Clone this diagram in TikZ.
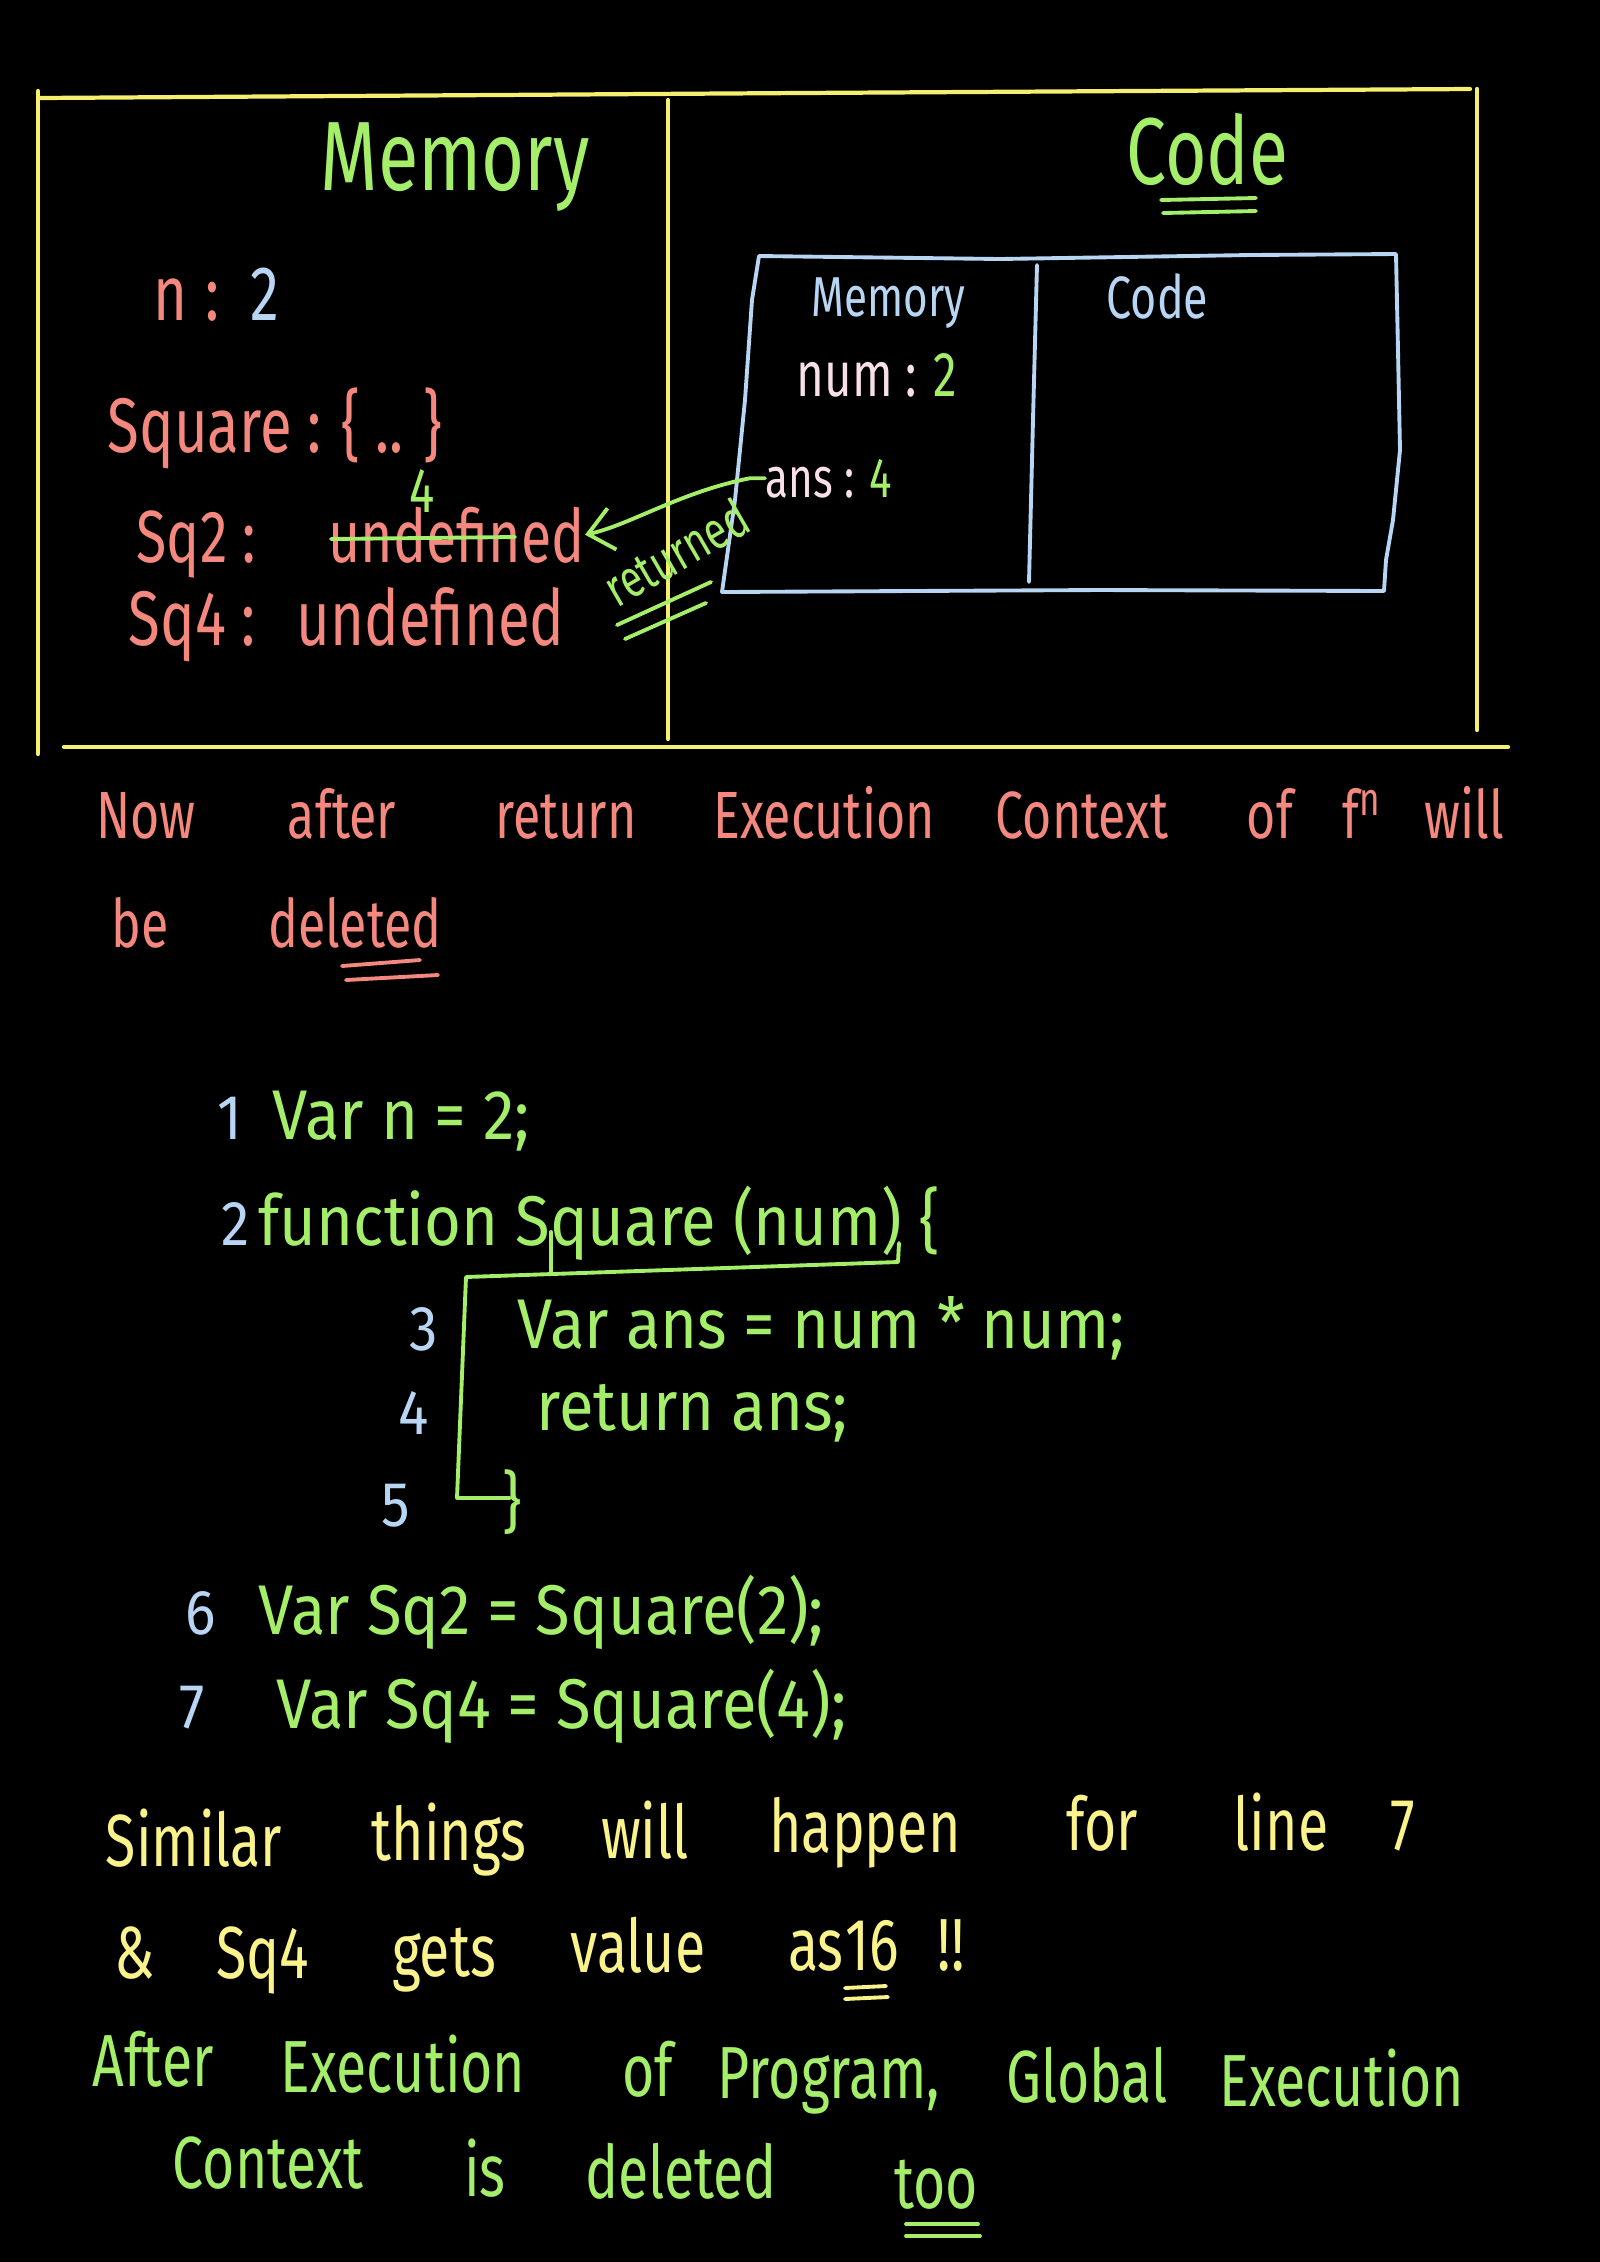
\documentclass[tikz,border=0pt]{standalone}
\usepackage{fontspec}
\setmainfont{Fira Sans}
\newfontfamily\hand[FakeStretch=0.75]{Fira Sans}
\newfontfamily\handw[FakeStretch=0.9]{Fira Sans}
\usetikzlibrary{arrows.meta}
\definecolor{ylw}{HTML}{F5EE6E}
\definecolor{ytxt}{HTML}{FAF28A}
\definecolor{grn}{HTML}{A4EE6A}
\definecolor{slm}{HTML}{F4887E}
\definecolor{blu}{HTML}{B8D6F4}
\definecolor{pnk}{HTML}{F8E0E8}
\begin{document}
\begin{tikzpicture}[x=0.01cm,y=-0.01cm,
  t/.style={inner sep=0pt, anchor=base},
  tw/.style={inner sep=0pt, anchor=base west},
  fs/.style={font=\hand\fontsize{#1}{#1}\selectfont},
  fw/.style={font=\handw\fontsize{#1}{#1}\selectfont},
  frame/.style={draw=ylw, line width=1.2pt, line cap=round},
  boxline/.style={draw=blu, line width=1.1pt, line cap=round, line join=round},
  gline/.style={draw=grn, line width=1.1pt, line cap=round, line join=round},
  sline/.style={draw=slm, line width=1.1pt, line cap=round}]
\fill[black] (0,0) rectangle (1600,2262);
\useasboundingbox (0,0) rectangle (1600,2262);

% yellow frame
\draw[frame] (38,91) -- (38,754);
\draw[frame] (38,98) -- (800,93) -- (1470,89);
\draw[frame] (1477,89) -- (1477,730);
\draw[frame] (668,100) -- (668,739);
\draw[frame] (64,747) -- (1508,747);

% titles
\node[tw, fs=28, text=grn] (memt) at (320,190) {Memory};
\node[tw, fs=27, text=grn] (codet) at (1126,184) {Code};
\draw[gline] (1161,200) -- (1256,198);
\draw[gline] (1163,213) -- (1256,211);

% global memory
\node[tw, fs=22] (n2) at (153,320) {\color{slm}n\hspace{5pt}:\hspace{9pt}\color{blu}2};
\node[tw, fs=22, text=slm] (sqf) at (107,452) {Square : \{ .. \}};
\node[tw, fs=21, text=slm] (sq2l) at (136,562) {Sq2 :};
\node[tw, fs=21, text=slm] (sq2u) at (328,562) {undefined};
\draw[gline] (331,539) -- (515,537);
\node[t, fs=18, text=grn] (four) at (422,512) {4};
\node[tw, fs=22, text=slm] (sq4l) at (128,645) {Sq4 :};
\node[tw, fs=22, text=slm] (sq4u) at (296,645) {undefined};

% function execution context box
\draw[boxline] (759,256) -- (1000,259) -- (1250,255) -- (1396,254) -- (1398,350)
  -- (1400,450) -- (1393,520) -- (1386,560) -- (1384,591) -- (1100,590) -- (722,592)
  -- (735,500) -- (745,400) -- (752,300) -- cycle;
\draw[boxline] (1037,265) -- (1033,420) -- (1029,582);
\node[tw, fs=16, text=blu] (memb) at (811,316) {Memory};
\node[tw, fs=17, text=blu] (codeb) at (1106,318) {Code};
\node[tw, fs=18] (numv) at (796,396) {\color{pnk}num : \color{grn}2};
\node[tw, fs=16] (ansv) at (765,497) {\color{pnk}ans : \color{grn}4};

% returned arrow
\draw[gline, -{Straight Barb[length=7pt, width=12pt]}] (ansv.west) -- ++(-15,0)
  .. controls (680,492) and (630,525) .. (sq2u.east);
\node[fs=15, text=grn, rotate=30, inner sep=0pt] (ret) at (676,552) {returned};
\draw[gline] (617,625) -- (711,582);
\draw[gline] (625,639) -- (706,603);

% paragraph (salmon)
\begin{scope}[every node/.style={t, fs=19, text=slm}]
\node (w1) at (146,838) {Now};
\node (w2) at (342,838) {after};
\node (w3) at (566,838) {return};
\node (w4) at (824,838) {Execution};
\node (w5) at (1082,838) {Context};
\node (w6) at (1270,838) {of};
\node (w7) at (1362,838) {f\textsuperscript{n}};
\node (w8) at (1464,838) {will};
\node (w9) at (140,947) {be};
\node (w10) at (355,947) {deleted};
\end{scope}
\draw[sline] (342,966) -- (420,960);
\draw[sline] (346,980) -- (438,975);

% code
\begin{scope}[every node/.style={t, fw=18, text=blu}]
\node (l1) at (230,1139) {1};
\node (l2) at (236,1245) {2};
\node (l3) at (424,1350) {3};
\node (l4) at (414,1434) {4};
\node (l5) at (396,1526) {5};
\node (l6) at (201,1634) {6};
\node (l7) at (192,1728) {7};
\end{scope}
\begin{scope}[every node/.style={tw, fw=20, text=grn}]
\node (c1) at (272,1139) {Var n = 2;};
\node (c2) at (258,1245) {function Square (num) \{};
\node (c3) at (517,1348) {Var ans = num * num;};
\node (c4) at (536,1430) {return ans;};
\node (c6) at (258,1634) {Var Sq2 = Square(2);};
\node (c7) at (276,1728) {Var Sq4 = Square(4);};
\end{scope}
\coordinate (tk1) at (551,1232);
\coordinate (tk2) at (551,1272);
\coordinate (br1) at (899,1243);
\coordinate (br2) at (898,1262);
\coordinate (br3) at (466,1277);
\coordinate (br4) at (457,1498);
\coordinate (br5) at (510,1498);
\draw[gline] (tk1) -- (tk2);
\draw[gline] (br1) -- (br2) -- (br3) -- (br4) -- (br5);
\node[fw=19, text=grn, inner sep=0pt] (cbr) at (512,1502) {\}};

% yellow remarks
\begin{scope}[every node/.style={t, fs=21, text=ytxt}]
\node (y1) at (194,1866) {Similar};
\node (y2) at (449,1860) {things};
\node (y3) at (645,1858) {will};
\node (y4) at (865,1852) {happen};
\node (y5) at (1102,1850) {for};
\node (y6) at (1281,1850) {line};
\node (y7) at (1403,1850) {7};
\node (z1) at (135,1978) {\&};
\node (z2) at (263,1978) {Sq4};
\node (z3) at (444,1976) {gets};
\node (z4) at (638,1972) {value};
\node (z5) at (816,1970) {as};
\node (z6) at (872,1970) {16};
\node (z7) at (951,1970) {!!};
\end{scope}
\draw[draw=ytxt, line width=1.1pt, line cap=round] (845,1988) -- (886,1986);
\draw[draw=ytxt, line width=1.1pt, line cap=round] (845,1999) -- (888,1997);

% green remarks
\begin{scope}[every node/.style={t, fs=21, text=grn}]
\node (g1) at (153,2086) {After};
\node (g2) at (403,2092) {Execution};
\node (g3) at (648,2096) {of};
\node (g4) at (829,2098) {Program,};
\node (g5) at (1087,2102) {Global};
\node (g6) at (1342,2106) {Execution};
\node (h1) at (268,2188) {Context};
\node (h2) at (485,2196) {is};
\node (h3) at (681,2198) {deleted};
\node (h4) at (936,2208) {too};
\end{scope}
\draw[gline] (906,2224) -- (978,2224);
\draw[gline] (906,2236) -- (980,2236);
\end{tikzpicture}
\end{document}
